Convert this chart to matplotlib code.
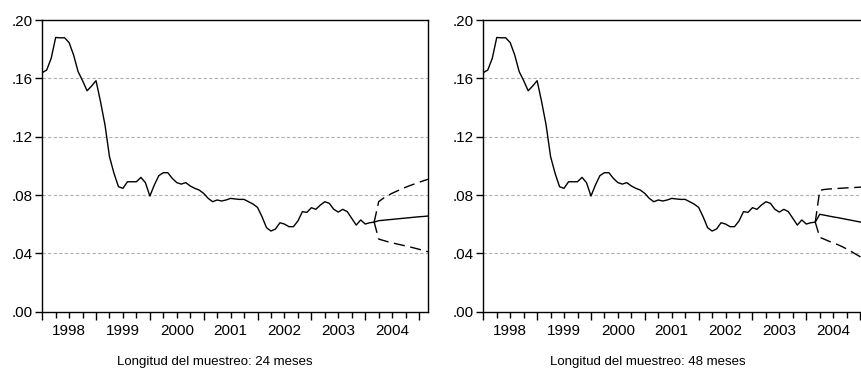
import matplotlib
matplotlib.use("Agg")
import matplotlib.pyplot as plt
from matplotlib.ticker import FixedLocator, FuncFormatter

plt.rcParams['font.family'] = ['Liberation Sans', 'DejaVu Sans']

# monthly observations, Jan 1998 = 0
actual = [
    0.1639, 0.1657, 0.1737, 0.1880, 0.1878, 0.1878, 0.1845, 0.1760, 0.1646, 0.1584, 0.1515, 0.1547,  # 1998
    0.1584, 0.1440, 0.1280, 0.1063, 0.0949, 0.0857, 0.0846, 0.0891, 0.0891, 0.0891, 0.0921, 0.0885,  # 1999
    0.0793, 0.0869, 0.0933, 0.0953, 0.0953, 0.0914, 0.0885, 0.0875, 0.0885, 0.0862, 0.0846, 0.0834,  # 2000
    0.0811, 0.0777, 0.0754, 0.0766, 0.0759, 0.0766, 0.0777, 0.0773, 0.0770, 0.0770, 0.0754, 0.0738,  # 2001
    0.0715, 0.0651, 0.0576, 0.0553, 0.0567, 0.0610, 0.0601, 0.0583, 0.0583, 0.0622, 0.0686, 0.0681,  # 2002
    0.0713, 0.0702, 0.0731, 0.0754, 0.0743, 0.0702, 0.0683, 0.0702, 0.0686, 0.0640, 0.0594, 0.0629,  # 2003
    0.0601, 0.0610, 0.0614,                                                                          # 2004
]

# forecasts Apr 2004 - Mar 2005 (24-month sample)
fc24 = [0.0624, 0.0627, 0.0630, 0.0633, 0.0636, 0.0639, 0.0642, 0.0645, 0.0648, 0.0651, 0.0653, 0.0656]
up24 = [0.0754, 0.0777, 0.0796, 0.0812, 0.0826, 0.0840, 0.0853, 0.0865, 0.0876, 0.0887, 0.0898, 0.0908]
lo24 = [0.0498, 0.0489, 0.0480, 0.0472, 0.0465, 0.0458, 0.0451, 0.0444, 0.0436, 0.0428, 0.0420, 0.0411]

# forecasts (48-month sample)
fc48 = [0.0668, 0.0662, 0.0656, 0.0650, 0.0645, 0.0639, 0.0633, 0.0627, 0.0621, 0.0615, 0.0609, 0.0603]
up48 = [0.0832, 0.0838, 0.0841, 0.0843, 0.0845, 0.0847, 0.0849, 0.0851, 0.0852, 0.0854, 0.0855, 0.0856]
lo48 = [0.0510, 0.0497, 0.0484, 0.0472, 0.0460, 0.0446, 0.0430, 0.0413, 0.0395, 0.0377, 0.0360, 0.0343]

years = ['1998', '1999', '2000', '2001', '2002', '2003', '2004']
captions = ['Longitud del muestreo: 24 meses', 'Longitud del muestreo: 48 meses']

n_act = len(actual)
x_act = list(range(n_act))
x_fc = list(range(n_act - 1, n_act + len(fc24)))  # starts at last actual
last_x = x_fc[-1]

fig = plt.figure(figsize=(8.61, 3.77), dpi=100)
ax_w = 385.8 / 861
ax_h = 291.7 / 377
bottom = 65.3 / 377
axes = [fig.add_axes([42.2 / 861, bottom, ax_w, ax_h]),
        fig.add_axes([483.3 / 861, bottom, ax_w, ax_h])]

for ax, fc, up, lo in zip(axes, [fc24, fc48], [up24, up48], [lo24, lo48]):
    last = actual[-1]
    ax.plot(x_act, actual, color='black', lw=1.0)
    ax.plot(x_fc, [last] + fc, color='black', lw=1.0)
    ax.plot(x_fc, [last] + up, color='black', lw=1.0, dashes=(8, 4))
    ax.plot(x_fc, [last] + lo, color='black', lw=1.0, dashes=(8, 4))

    ax.set_xlim(0, last_x)
    ax.set_ylim(0, 0.20)
    ax.set_yticks([0.0, 0.04, 0.08, 0.12, 0.16, 0.20])
    ax.yaxis.set_major_formatter(FuncFormatter(lambda v, p: f'{v:.2f}'[1:]))
    for g in [0.04, 0.08, 0.12, 0.16]:
        ax.axhline(g, color='#b0b0b0', lw=0.8, dashes=(3, 2), zorder=0)

    ax.xaxis.set_major_locator(FixedLocator(list(range(0, last_x + 1, 12))))
    ax.xaxis.set_major_formatter(FuncFormatter(lambda v, p: ''))
    minor = [m for m in range(3, last_x + 1, 3) if m % 12 != 0]
    ax.xaxis.set_minor_locator(FixedLocator(minor))
    lab = {12 * i + 6: y for i, y in enumerate(years)}
    ax.xaxis.set_minor_formatter(FuncFormatter(lambda v, p: lab.get(int(round(v)), '')))

    ax.tick_params(axis='x', which='major', length=6, width=1, direction='out')
    ax.tick_params(axis='x', which='minor', length=4, width=1, direction='out',
                   labelsize=11, pad=5)
    ax.tick_params(axis='y', length=5, width=1, direction='out', labelsize=11, pad=2)
    for s in ax.spines.values():
        s.set_linewidth(1.0)
        s.set_color('black')

fig.text(215 / 861, 15 / 377, captions[0], ha='center', va='center', fontsize=9.5)
fig.text(648 / 861, 15 / 377, captions[1], ha='center', va='center', fontsize=9.5)

fig.savefig('out.png', dpi=100)
